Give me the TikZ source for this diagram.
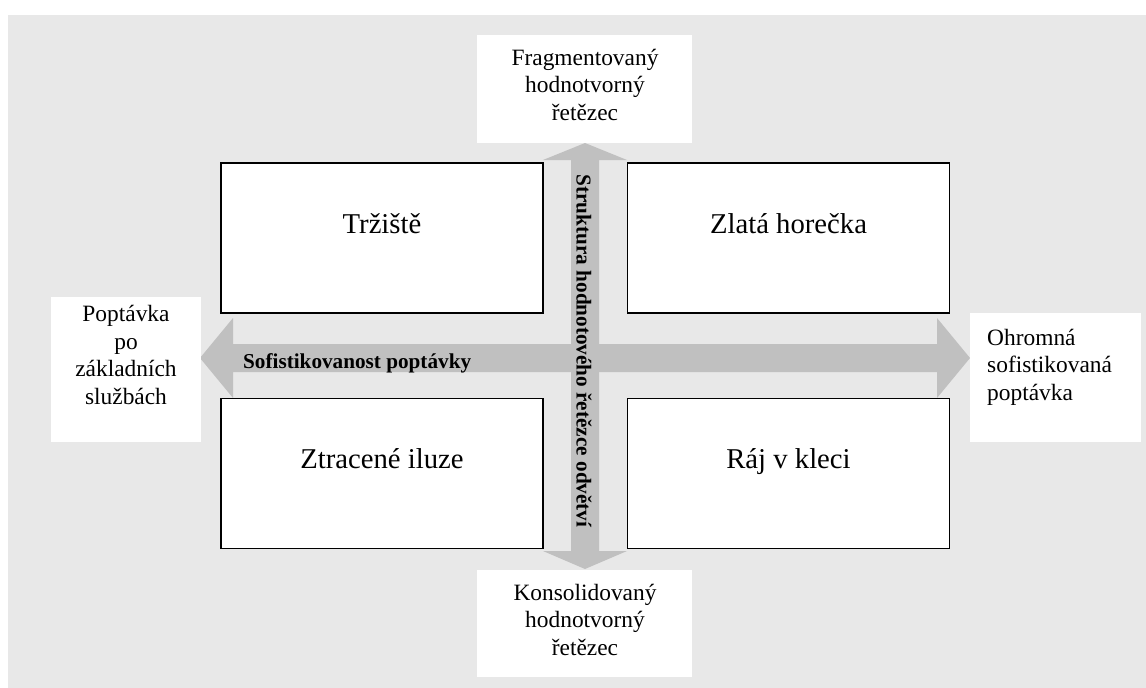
\documentclass[tikz,border=0pt]{standalone}
\usepackage{fontspec}
\setmainfont{Liberation Serif}
\definecolor{pozadi}{HTML}{E8E8E8}
\definecolor{osa}{HTML}{C0C0C0}
\tikzset{
  kvadrant/.style={draw=black, line width=1.3pt, fill=white, minimum width=322pt, minimum height=150pt, inner sep=0pt},
  kvadranttext/.style={font=\fontsize{28.7}{33}\selectfont, anchor=base, inner sep=0pt},
  stitek/.style={fill=white, inner sep=0pt},
  stitektext/.style={font=\fontsize{23.4}{27.4}\selectfont, align=center, anchor=base, inner sep=0pt},
  osatext/.style={font=\bfseries\fontsize{21.2}{25}\selectfont, inner sep=0pt}
}
\begin{document}
\begin{tikzpicture}[x=1pt, y=-1pt]
\useasboundingbox (0,0) rectangle (1146,688);
\fill[pozadi] (8,15) rectangle (1146,688);
\fill[osa] (200,358) -- (233,318) -- (233,344) -- (937,344) -- (937,318) -- (970,358) -- (937,398) -- (937,372) -- (233,372) -- (233,398) -- cycle;
\fill[osa] (585,143) -- (627,160) -- (599,160) -- (599,551) -- (627,551) -- (585,569) -- (543,551) -- (571,551) -- (571,160) -- (543,160) -- cycle;
\node[osatext, anchor=base west] (sofistikovanost) at (243,368) {Sofistikovanost poptávky};
\node[osatext, rotate=-90] (struktura) at (584,351) {Struktura hodnotového řetězce odvětví};
\node[kvadrant] (trziste) at (382,238) {};
\node[kvadrant] (horecka) at (788.5,238) {};
\node[kvadrant] (iluze) at (382,473.5) {};
\node[kvadrant] (raj) at (788.5,473.5) {};
\node[kvadranttext] at (trziste.center |- 0,233) {Tržiště};
\node[kvadranttext] at (horecka.center |- 0,233) {Zlatá horečka};
\node[kvadranttext] at (iluze.center |- 0,468) {Ztracené iluze};
\node[kvadranttext] at (raj.center |- 0,468) {Ráj v kleci};
\node[stitek, minimum width=215pt, minimum height=108pt] (fragment) at (584.5,89) {};
\node[stitek, minimum width=215pt, minimum height=107pt] (konsolid) at (584.5,623.5) {};
\node[stitek, minimum width=150pt, minimum height=145pt] (zakladni) at (126,369.5) {};
\node[stitek, minimum width=171pt, minimum height=129pt] (ohromna) at (1055.5,377.5) {};
\node[stitektext] (fragmenttext) at (585,120) {Fragmentovaný\\hodnotvorný\\řetězec};
\node[stitektext] (konsolidtext) at (585,655) {Konsolidovaný\\hodnotvorný\\řetězec};
\node[stitektext] (zakladnitext) at (126,404) {Poptávka\\po\\základních\\službách};
\node[stitektext, align=left, anchor=base west] (ohromnatext) at (987,400) {Ohromná\\sofistikovaná\\poptávka};
\end{tikzpicture}
\end{document}
